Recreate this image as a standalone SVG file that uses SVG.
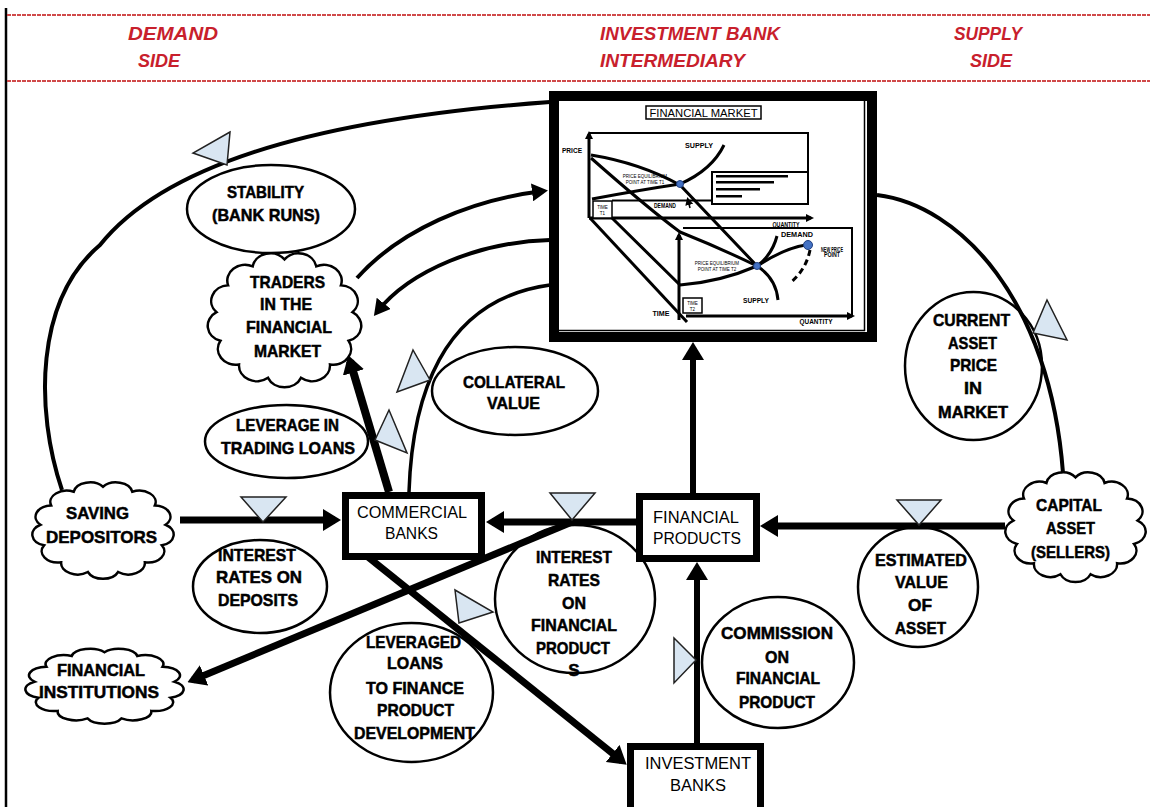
<svg xmlns="http://www.w3.org/2000/svg" xmlns:xlink="http://www.w3.org/1999/xlink" width="1150" height="807" viewBox="0 0 1150 807">
<style>
.hdr{font-family:"Liberation Sans",Arial,sans-serif;font-weight:bold;font-style:italic;font-size:19px;fill:#c8202c;text-anchor:middle}
.lbl{font-family:"Liberation Sans",Arial,sans-serif;font-weight:bold;font-size:17px;fill:#000;stroke:#000;stroke-width:0.5;text-anchor:middle}
.bx{font-family:"Liberation Sans",Arial,sans-serif;font-size:16px;fill:#000;text-anchor:middle}
.tiny{font-family:"Liberation Sans",Arial,sans-serif;font-size:4.5px;fill:#000;text-anchor:middle}
.blob{font-family:"Liberation Sans",Arial,sans-serif;font-weight:900;font-size:7px;fill:#000;text-anchor:middle}
.ell{fill:#fff;stroke:#000;stroke-width:2.5}
.cloud{fill:#fff;stroke:#000;stroke-width:2.5}
.box{fill:#fff;stroke:#000;stroke-width:7}
.tri{fill:#d9e6f2;stroke:#222;stroke-width:1.5}
.conn{fill:none;stroke:#000}
.ch{fill:none;stroke:#000;stroke-width:3}
.chthin{fill:none;stroke:#000;stroke-width:2}
.dot{fill:#4472c4;stroke:#1f3f80;stroke-width:1}
</style>
<defs>
<marker id="ah" viewBox="0 0 18 22" refX="12" refY="11" markerWidth="18" markerHeight="22" markerUnits="userSpaceOnUse" orient="auto"><path d="M0,0 L18,11 L0,22 Z" fill="#000"/></marker>
<marker id="ahs" viewBox="0 0 16 18" refX="11" refY="9" markerWidth="16" markerHeight="18" markerUnits="userSpaceOnUse" orient="auto"><path d="M0,0 L16,9 L0,18 Z" fill="#000"/></marker>
<marker id="aht" viewBox="0 0 8 8" refX="5" refY="4" markerWidth="8" markerHeight="8" markerUnits="userSpaceOnUse" orient="auto"><path d="M0,0 L8,4 L0,8 Z" fill="#000"/></marker>
<path id="cloudShape" vector-effect="non-scaling-stroke" d="M50,8 A11,11 0 0 1 69.5,12.8 A11,11 0 0 1 84.6,26.1 A11,11 0 0 1 91.7,44.9 A11,11 0 0 1 89.3,64.9 A11,11 0 0 1 77.9,81.4 A11,11 0 0 1 60.1,90.8 A11,11 0 0 1 39.9,90.8 A11,11 0 0 1 22.1,81.4 A11,11 0 0 1 10.7,64.9 A11,11 0 0 1 8.3,44.9 A11,11 0 0 1 15.4,26.1 A11,11 0 0 1 30.5,12.8 A11,11 0 0 1 50,8 Z"/>
</defs>
<rect width="1150" height="807" fill="#fff"/>

<g id="header">
<line x1="6" y1="8" x2="6" y2="807" stroke="#000" stroke-width="2.5"/>
<line x1="7" y1="15" x2="1150" y2="15" stroke="#d04a4a" stroke-width="2" stroke-dasharray="4 1"/>
<line x1="7" y1="81" x2="1150" y2="81" stroke="#d04a4a" stroke-width="2" stroke-dasharray="4 1"/>
<text class="hdr" x="173" y="40" textLength="90" lengthAdjust="spacingAndGlyphs">DEMAND</text>
<text class="hdr" x="159" y="67" textLength="42" lengthAdjust="spacingAndGlyphs">SIDE</text>
<text class="hdr" x="690" y="40" textLength="180" lengthAdjust="spacingAndGlyphs">INVESTMENT BANK</text>
<text class="hdr" x="672.5" y="67" textLength="145" lengthAdjust="spacingAndGlyphs">INTERMEDIARY</text>
<text class="hdr" x="988" y="40" textLength="68" lengthAdjust="spacingAndGlyphs">SUPPLY</text>
<text class="hdr" x="991" y="67" textLength="42" lengthAdjust="spacingAndGlyphs">SIDE</text>
</g>

<g id="financial-market">
<rect x="554" y="96" width="318" height="241" fill="#fff" stroke="#000" stroke-width="10"/>
<line x1="864.5" y1="101" x2="864.5" y2="331" stroke="#000" stroke-width="1.5"/>
<line x1="559" y1="330.5" x2="865" y2="330.5" stroke="#000" stroke-width="1.5"/>
<rect x="646" y="106" width="115" height="13" fill="#fff" stroke="#000" stroke-width="1.5"/>
<text x="703.5" y="117" font-family="Liberation Sans, Arial, sans-serif" font-size="11" text-anchor="middle" textLength="108" lengthAdjust="spacingAndGlyphs">FINANCIAL MARKET</text>
<line class="ch" x1="589" y1="218" x2="589" y2="134" marker-end="url(#aht)"/>
<polyline class="chthin" points="589,133 808,133 808,172"/>
<line class="chthin" x1="612" y1="200.5" x2="712" y2="200.5"/>
<rect x="712" y="172" width="96" height="32" fill="#fff" stroke="#000" stroke-width="2"/>
<rect x="716" y="175" width="72" height="2.5"/>
<rect x="716" y="181" width="58" height="2.5"/>
<rect x="716" y="188" width="44" height="2.5"/>
<rect x="716" y="195" width="26" height="2.5"/>
<line class="ch" x1="589" y1="218" x2="811" y2="218" marker-end="url(#aht)"/>
<rect x="593" y="201" width="19" height="17" fill="#fff" stroke="#000" stroke-width="1.5"/>
<text class="tiny" x="602.5" y="208.5">TIME</text>
<text class="tiny" x="602.5" y="214.5">T1</text>
<text class="blob" x="572" y="153" textLength="20" lengthAdjust="spacingAndGlyphs">PRICE</text>
<text class="blob" x="786" y="227" textLength="27" lengthAdjust="spacingAndGlyphs">QUANTITY</text>
<path class="ch" d="M591,155 Q640,163 680,185 L757,266"/>
<path class="ch" d="M592,199 Q640,190 680,184 Q712,170 724,145"/>
<text class="blob" x="699" y="148" textLength="28" lengthAdjust="spacingAndGlyphs">SUPPLY</text>
<text class="blob" x="665" y="208" textLength="22" lengthAdjust="spacingAndGlyphs">DEMAND</text>
<line x1="690" y1="208" x2="688" y2="200" stroke="#000" stroke-width="1.5" marker-end="url(#aht)"/>
<text class="tiny" x="645" y="178">PRICE EQUILIBRIUM</text>
<text class="tiny" x="645" y="184">POINT AT TIME T1</text>
<path class="ch" d="M591,158 Q650,210 680,232 Q720,248 757,266"/>
<path class="ch" d="M612,218 L680,285 Q720,282 757,266"/>
<line class="ch" x1="590" y1="218" x2="687" y2="322"/>
<line class="ch" x1="679" y1="320" x2="679" y2="235" marker-end="url(#aht)"/>
<polyline class="chthin" points="683,228 852,228 852,315"/>
<line class="ch" x1="686" y1="316" x2="852" y2="316" marker-end="url(#aht)"/>
<rect x="683" y="298" width="19" height="15" fill="#fff" stroke="#000" stroke-width="1.5"/>
<text class="tiny" x="692.5" y="304.5">TIME</text>
<text class="tiny" x="692.5" y="310.5">T2</text>
<text class="blob" x="661" y="316" textLength="17" lengthAdjust="spacingAndGlyphs">TIME</text>
<text class="blob" x="816" y="324" textLength="33" lengthAdjust="spacingAndGlyphs">QUANTITY</text>
<path class="ch" d="M757,266 Q776,278 778,300"/>
<path class="ch" d="M757,266 Q772,255 777,236"/>
<text class="blob" x="797" y="237" textLength="32" lengthAdjust="spacingAndGlyphs">DEMAND</text>
<path class="ch" d="M757,266 Q785,248 806,245"/>
<path fill="none" stroke="#000" stroke-width="3" stroke-dasharray="6 4" d="M810,250 Q806,270 790,283"/>
<text class="blob" x="832" y="252" font-size="4" textLength="22" lengthAdjust="spacingAndGlyphs">NEW PRICE</text>
<text class="blob" x="832" y="257" font-size="4" textLength="16" lengthAdjust="spacingAndGlyphs">POINT</text>
<text class="blob" x="756" y="303" textLength="26" lengthAdjust="spacingAndGlyphs">SUPPLY</text>
<text class="tiny" x="717" y="265">PRICE EQUILIBRIUM</text>
<text class="tiny" x="717" y="271">POINT AT TIME T2</text>
<circle class="dot" cx="680" cy="184" r="3.5"/>
<circle class="dot" cx="757" cy="266" r="3.5"/>
<circle class="dot" cx="808" cy="245" r="4.5"/>
</g>

<g id="stability">
<ellipse class="ell" cx="271" cy="209" rx="84" ry="44"/>
<text class="lbl" x="265.5" y="198" textLength="77" lengthAdjust="spacingAndGlyphs">STABILITY</text>
<text class="lbl" x="266" y="221" textLength="108" lengthAdjust="spacingAndGlyphs">(BANK RUNS)</text>
</g>
<g id="traders">
<use xlink:href="#cloudShape" class="cloud" transform="translate(203,248) scale(1.63,1.43)"/>
<text class="lbl" x="287.5" y="288" textLength="75" lengthAdjust="spacingAndGlyphs">TRADERS</text>
<text class="lbl" x="286" y="310" textLength="52" lengthAdjust="spacingAndGlyphs">IN THE</text>
<text class="lbl" x="289" y="333" textLength="86" lengthAdjust="spacingAndGlyphs">FINANCIAL</text>
<text class="lbl" x="287.5" y="357" textLength="67" lengthAdjust="spacingAndGlyphs">MARKET</text>
</g>
<g id="leverage-trading">
<ellipse class="ell" cx="286.5" cy="441.5" rx="81.5" ry="36.5"/>
<text class="lbl" x="287.5" y="431" textLength="103" lengthAdjust="spacingAndGlyphs">LEVERAGE IN</text>
<text class="lbl" x="288" y="454" textLength="134" lengthAdjust="spacingAndGlyphs">TRADING LOANS</text>
</g>
<g id="collateral">
<ellipse class="ell" cx="515" cy="391" rx="83" ry="44"/>
<text class="lbl" x="514" y="388" textLength="102" lengthAdjust="spacingAndGlyphs">COLLATERAL</text>
<text class="lbl" x="513.5" y="409" textLength="53" lengthAdjust="spacingAndGlyphs">VALUE</text>
</g>
<g id="saving-depositors">
<use xlink:href="#cloudShape" class="cloud" transform="translate(28,478.5) scale(1.5,1.03)"/>
<text class="lbl" x="97.5" y="519" textLength="63" lengthAdjust="spacingAndGlyphs">SAVING</text>
<text class="lbl" x="101.5" y="543" textLength="111" lengthAdjust="spacingAndGlyphs">DEPOSITORS</text>
</g>
<g id="interest-deposits">
<ellipse class="ell" cx="260" cy="586.5" rx="67" ry="46.5"/>
<text class="lbl" x="257" y="561" textLength="78" lengthAdjust="spacingAndGlyphs">INTEREST</text>
<text class="lbl" x="259" y="583" textLength="86" lengthAdjust="spacingAndGlyphs">RATES  ON</text>
<text class="lbl" x="258" y="606" textLength="80" lengthAdjust="spacingAndGlyphs">DEPOSITS</text>
</g>
<g id="financial-institutions">
<use xlink:href="#cloudShape" class="cloud" transform="translate(20.5,645.8) scale(1.68,0.8)"/>
<text class="lbl" x="101" y="676" textLength="88" lengthAdjust="spacingAndGlyphs">FINANCIAL</text>
<text class="lbl" x="99" y="698" textLength="120" lengthAdjust="spacingAndGlyphs">INSTITUTIONS</text>
</g>
<g id="leveraged-loans">
<ellipse class="ell" cx="411.5" cy="692.5" rx="81.5" ry="69.5"/>
<text class="lbl" x="413.5" y="648" textLength="95" lengthAdjust="spacingAndGlyphs">LEVERAGED</text>
<text class="lbl" x="415" y="669" textLength="56" lengthAdjust="spacingAndGlyphs">LOANS</text>
<text class="lbl" x="415" y="694" textLength="98" lengthAdjust="spacingAndGlyphs">TO FINANCE</text>
<text class="lbl" x="415.5" y="716" textLength="77" lengthAdjust="spacingAndGlyphs">PRODUCT</text>
<text class="lbl" x="414.5" y="739" textLength="121" lengthAdjust="spacingAndGlyphs">DEVELOPMENT</text>
</g>
<g id="interest-products">
<ellipse class="ell" cx="575" cy="599" rx="80" ry="74"/>
<text class="lbl" x="574" y="563" textLength="76" lengthAdjust="spacingAndGlyphs">INTEREST</text>
<text class="lbl" x="574" y="586" textLength="52" lengthAdjust="spacingAndGlyphs">RATES</text>
<text class="lbl" x="574" y="609" textLength="24" lengthAdjust="spacingAndGlyphs">ON</text>
<text class="lbl" x="574" y="631" textLength="86" lengthAdjust="spacingAndGlyphs">FINANCIAL</text>
<text class="lbl" x="573" y="654" textLength="74" lengthAdjust="spacingAndGlyphs">PRODUCT</text>
<text class="lbl" x="574" y="676">S</text>
</g>
<g id="commission">
<ellipse class="ell" cx="778" cy="662.5" rx="76" ry="65.5"/>
<text class="lbl" x="777" y="639" textLength="112" lengthAdjust="spacingAndGlyphs">COMMISSION</text>
<text class="lbl" x="777" y="663" textLength="24" lengthAdjust="spacingAndGlyphs">ON</text>
<text class="lbl" x="778" y="684" textLength="84" lengthAdjust="spacingAndGlyphs">FINANCIAL</text>
<text class="lbl" x="777" y="708" textLength="76" lengthAdjust="spacingAndGlyphs">PRODUCT</text>
</g>
<g id="estimated-value">
<ellipse class="ell" cx="918" cy="587" rx="60" ry="60"/>
<text class="lbl" x="921" y="566" textLength="92" lengthAdjust="spacingAndGlyphs">ESTIMATED</text>
<text class="lbl" x="921.5" y="588" textLength="53" lengthAdjust="spacingAndGlyphs">VALUE</text>
<text class="lbl" x="920" y="611" textLength="24" lengthAdjust="spacingAndGlyphs">OF</text>
<text class="lbl" x="920.5" y="634" textLength="51" lengthAdjust="spacingAndGlyphs">ASSET</text>
</g>
<g id="capital-asset">
<use xlink:href="#cloudShape" class="cloud" transform="translate(1001,468) scale(1.49,1.17)"/>
<text class="lbl" x="1069" y="511" textLength="66" lengthAdjust="spacingAndGlyphs">CAPITAL</text>
<text class="lbl" x="1070.5" y="534" textLength="49" lengthAdjust="spacingAndGlyphs">ASSET</text>
<text class="lbl" x="1070.5" y="558" textLength="79" lengthAdjust="spacingAndGlyphs">(SELLERS)</text>
</g>
<g id="current-price">
<ellipse class="ell" cx="973.5" cy="366" rx="68.5" ry="74"/>
<text class="lbl" x="971.5" y="326" textLength="77" lengthAdjust="spacingAndGlyphs">CURRENT</text>
<text class="lbl" x="972.5" y="349" textLength="49" lengthAdjust="spacingAndGlyphs">ASSET</text>
<text class="lbl" x="973.5" y="371" textLength="47" lengthAdjust="spacingAndGlyphs">PRICE</text>
<text class="lbl" x="973" y="394" textLength="18" lengthAdjust="spacingAndGlyphs">IN</text>
<text class="lbl" x="973" y="418" textLength="70" lengthAdjust="spacingAndGlyphs">MARKET</text>
</g>
<g id="commercial-banks">
<rect class="box" x="345.5" y="495.5" width="136" height="61"/>
<text class="bx" x="412" y="518" textLength="110" lengthAdjust="spacingAndGlyphs">COMMERCIAL</text>
<text class="bx" x="411.5" y="539" textLength="53" lengthAdjust="spacingAndGlyphs">BANKS</text>
</g>
<g id="financial-products">
<rect class="box" x="639.5" y="496.5" width="117" height="62"/>
<text class="bx" x="696" y="523" textLength="86" lengthAdjust="spacingAndGlyphs">FINANCIAL</text>
<text class="bx" x="697" y="544" textLength="88" lengthAdjust="spacingAndGlyphs">PRODUCTS</text>
</g>
<g id="investment-banks">
<rect class="box" x="630.5" y="746.5" width="130" height="70"/>
<text class="bx" x="698" y="769" textLength="106" lengthAdjust="spacingAndGlyphs">INVESTMENT</text>
<text class="bx" x="698" y="791" textLength="56" lengthAdjust="spacingAndGlyphs">BANKS</text>
</g>

<g id="connectors">
<path class="conn" stroke-width="4" d="M62,490 C35,410 35,300 100,245 C160,170 300,120 550,102"/>
<path class="conn" stroke-width="4" d="M357,278 C400,230 470,200 543,191" marker-end="url(#ahs)"/>
<path class="conn" stroke-width="4" d="M550,240 C480,242 410,270 377,312" marker-end="url(#ahs)"/>
<path class="conn" stroke-width="3.5" d="M409,492 C412,400 440,300 550,285"/>
<path class="conn" stroke-width="4" d="M877,195 C960,205 1050,300 1063,473"/>
<line class="conn" stroke-width="8" x1="389" y1="492" x2="350" y2="361" marker-end="url(#ah)"/>
<line class="conn" stroke-width="7" x1="180" y1="520" x2="335" y2="520" marker-end="url(#ah)"/>
<line class="conn" stroke-width="7" x1="636" y1="522" x2="492" y2="522" marker-end="url(#ah)"/>
<line class="conn" stroke-width="7" x1="1005" y1="526" x2="766" y2="526" marker-end="url(#ah)"/>
<line class="conn" stroke-width="7" x1="368" y1="557" x2="622" y2="761" marker-end="url(#ah)"/>
<line class="conn" stroke-width="7" x1="572" y1="522" x2="193" y2="680" marker-end="url(#ah)"/>
<line class="conn" stroke-width="6" x1="697" y1="743" x2="697" y2="568" marker-end="url(#ah)"/>
<line class="conn" stroke-width="6" x1="693" y1="493" x2="693" y2="348" marker-end="url(#ah)"/>
<polygon class="tri" points="230,132 193,153 227,165"/>
<polygon class="tri" points="413,350 397,392 430,380"/>
<polygon class="tri" points="389,410 375,440 407,453"/>
<polygon class="tri" points="1047,300 1033,333 1067,340"/>
<polygon class="tri" points="241,497 286,497 263,522"/>
<polygon class="tri" points="550,493 595,493 572,520"/>
<polygon class="tri" points="897,500 941,500 919,525"/>
<polygon class="tri" points="674,638 674,683 696,660"/>
<polygon class="tri" points="455,590 493,612 459,623"/>
</g>
</svg>
